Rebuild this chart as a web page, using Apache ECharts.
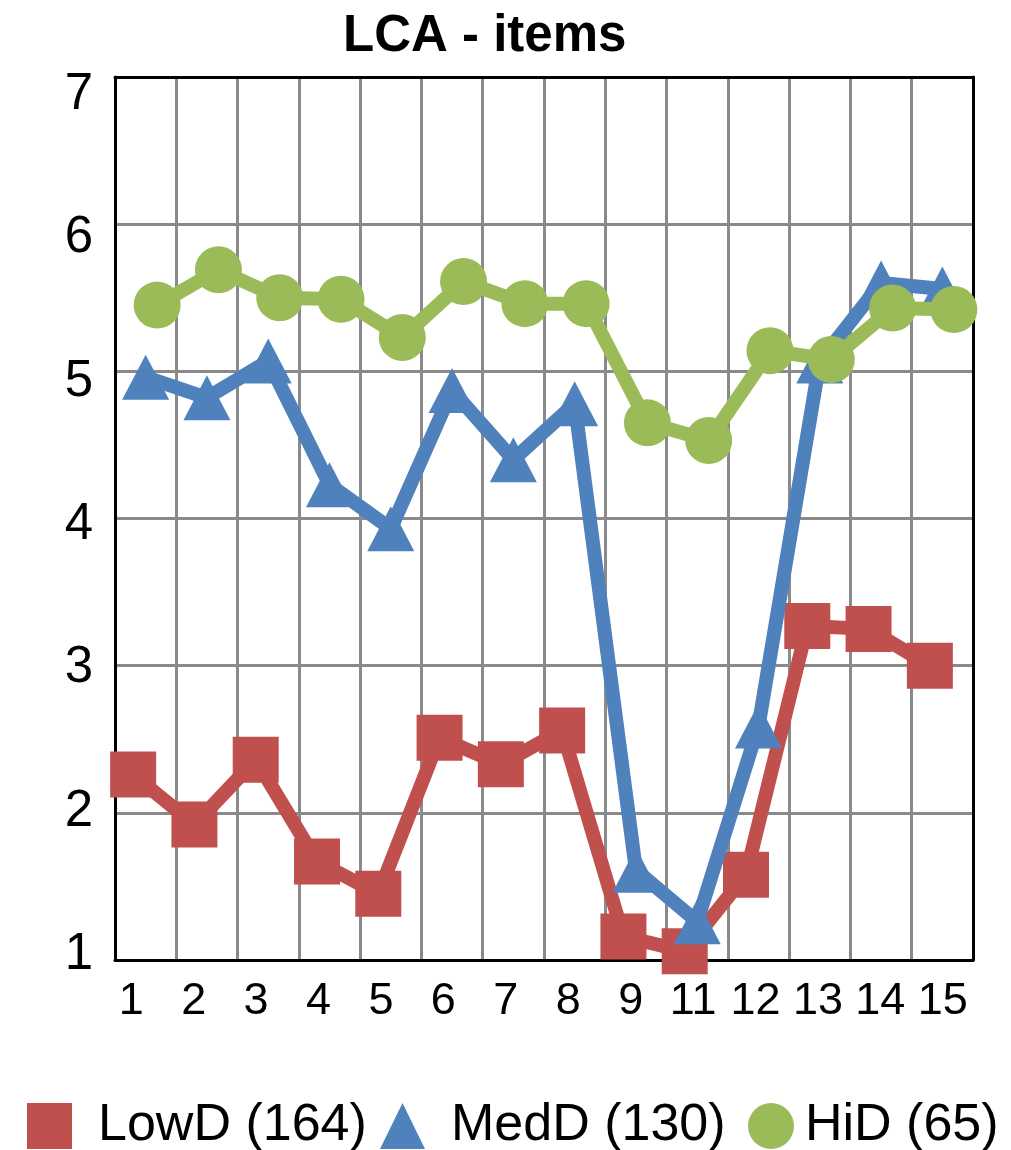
<!DOCTYPE html>
<html>
<head>
<meta charset="utf-8">
<script src="https://cdn.jsdelivr.net/npm/echarts@6/dist/echarts.min.js"></script>
<style>
  html, body { margin: 0; padding: 0; background: #fff; }
  #chart { width: 1011px; height: 1150px; }
</style>
</head>
<body>
<div id="chart"></div>
<script>
// data
var categories = ['1', '2', '3', '4', '5', '6', '7', '8', '9', '11', '12', '13', '14', '15'];
var lowD = [2.26, 1.92, 2.36, 1.67, 1.45, 2.51, 2.33, 2.56, 1.16, 1.06, 1.58, 3.27, 3.25, 3.00];
var medD = [4.96, 4.82, 5.07, 4.23, 3.93, 4.87, 4.40, 4.78, 1.61, 1.26, 2.59, 5.07, 5.60, 5.56];
var hiD = [5.45, 5.69, 5.50, 5.49, 5.23, 5.61, 5.46, 5.46, 4.65, 4.53, 5.14, 5.08, 5.43, 5.42];
var seriesNames = ['LowD (164)', 'MedD (130)', 'HiD (65)'];
var yMin = 1, yMax = 7, yStep = 1;

var FONT = 'Liberation Sans, Arial, sans-serif';
var RED = '#C0504D', BLUE = '#4F81BD', GREEN = '#9BBB59';

// plot rectangle
var PL = 115, PT = 77, PW = 858, PH = 883;

function rect(dx) {
  return { left: PL + dx, top: PT, width: PW, height: PH };
}
function hiddenCat(gi) {
  return { type: 'category', gridIndex: gi, data: categories, boundaryGap: true, show: false };
}
function hiddenVal(gi) {
  return { type: 'value', gridIndex: gi, min: yMin, max: yMax, interval: yStep, show: false };
}
function lineOnly(axis, pos) {
  axis.show = true;
  axis.position = pos;
  axis.z = 1;
  axis.axisLine = { show: true, onZero: false, lineStyle: { color: '#000', width: 3 } };
  axis.axisTick = { show: false };
  axis.axisLabel = { show: false };
  axis.splitLine = { show: false };
  return axis;
}

var chart = echarts.init(document.getElementById('chart'));

var xAxes = [], yAxes = [];
// grid 0: gridlines
var gx0 = hiddenCat(0);
gx0.show = true; gx0.axisLine = { show: false }; gx0.axisTick = { show: false }; gx0.axisLabel = { show: false };
gx0.splitLine = { show: true, interval: 0, lineStyle: { color: '#8a8a8a', width: 3 } };
var gy0 = hiddenVal(0);
gy0.show = true; gy0.axisLine = { show: false }; gy0.axisTick = { show: false }; gy0.axisLabel = { show: false };
gy0.splitLine = { show: true, lineStyle: { color: '#8a8a8a', width: 3 } };
xAxes.push(gx0); yAxes.push(gy0);
// grid 1: frame
xAxes.push(lineOnly(hiddenCat(1), 'bottom'));
xAxes.push(lineOnly(hiddenCat(1), 'top'));
yAxes.push(lineOnly(hiddenVal(1), 'left'));
yAxes.push(lineOnly(hiddenVal(1), 'right'));
// grids 2..4: one per series, shifted inside the category like the original (axis index 3..5)
xAxes.push(hiddenCat(2)); yAxes.push(hiddenVal(2));
xAxes.push(hiddenCat(3)); yAxes.push(hiddenVal(3));
xAxes.push(hiddenCat(4)); yAxes.push(hiddenVal(4));
// grid 5: x tick labels
xAxes.push({
  type: 'category', gridIndex: 5, data: categories, boundaryGap: true,
  axisLine: { show: false }, axisTick: { show: false }, splitLine: { show: false },
  axisLabel: { interval: 0, margin: 19, fontSize: 45, color: '#000', fontFamily: FONT }
});
yAxes.push(hiddenVal(5));
// grid 6: y tick labels
xAxes.push(hiddenCat(6));
yAxes.push({
  type: 'value', gridIndex: 6, min: yMin, max: yMax, interval: yStep,
  axisLine: { show: false }, axisTick: { show: false }, splitLine: { show: false },
  axisLabel: { margin: 22, fontSize: 51, color: '#000', fontFamily: FONT }
});

function legendFor(name, icon, left, iconW, pad) {
  return {
    left: left, top: 1100, padding: 0, itemGap: 0,
    itemWidth: iconW, itemHeight: 46, selectedMode: false,
    data: [{ name: name, icon: icon }],
    textStyle: { fontSize: 52, color: '#000', fontFamily: FONT, padding: [0, 0, 9, pad] }
  };
}

function makeSeries(i, data, color, symbol, size) {
  return {
    name: seriesNames[i], type: 'line', data: data,
    xAxisIndex: 3 + i, yAxisIndex: 3 + i,
    symbol: symbol, symbolSize: size, showAllSymbol: true, clip: false,
    itemStyle: { color: color },
    lineStyle: { color: color, width: 14 },
    z: 2 + i, animation: false
  };
}

var option = {
  animation: false,
  backgroundColor: '#fff',
  textStyle: { fontFamily: FONT },
  title: {
    text: 'LCA - items', left: 343, top: 11, padding: 0,
    textStyle: { fontSize: 51, fontWeight: 'bold', color: '#000', fontFamily: FONT }
  },
  legend: [
    legendFor(seriesNames[0], 'rect', 27, 45, 21),
    legendFor(seriesNames[1], 'triangle', 380, 45, 21),
    legendFor(seriesNames[2], 'circle', 748, 46, 6)
  ],
  grid: [
    rect(0), rect(0), rect(-12.5), rect(0), rect(11.5),
    { left: 100, top: PT, width: 874, height: PH },
    { left: PL, top: 95, width: PW, height: 860 }
  ],
  xAxis: xAxes,
  yAxis: yAxes,
  series: [
    makeSeries(0, lowD, RED, 'rect', 46),
    makeSeries(1, medD, BLUE, 'triangle', [47, 45]),
    makeSeries(2, hiD, GREEN, 'circle', 47)
  ]
};

chart.setOption(option);
</script>
</body>
</html>
